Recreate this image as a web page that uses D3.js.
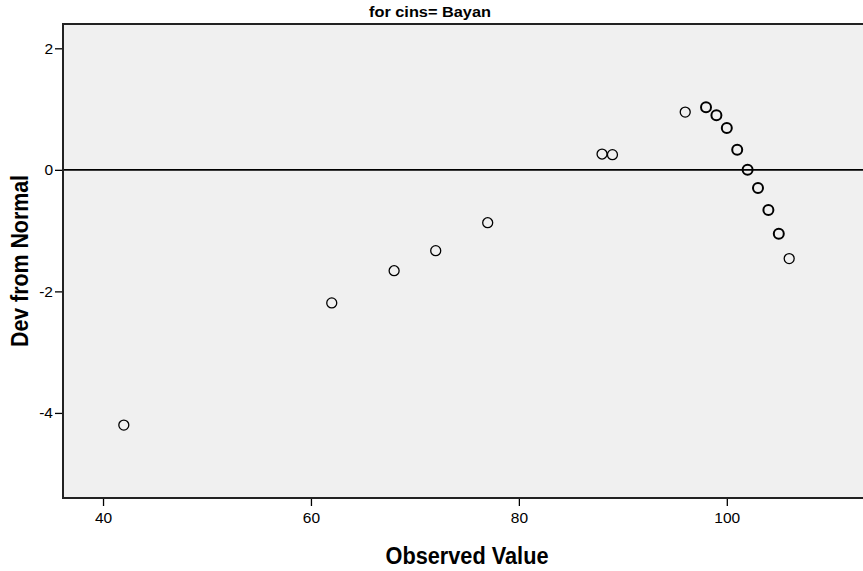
<!DOCTYPE html>
<html>
<head>
<meta charset="utf-8">
<script src="https://cdn.jsdelivr.net/npm/d3@7"></script>
<style>
	body { margin: 0; background: #fff; }
	svg { display: block; font-family: "Liberation Sans", Arial, sans-serif; }
</style>
</head>
<body>
<script>
// observed value, deviation from normal, number of overlapping cases
const observed = [42, 62, 68, 72, 77, 88, 89, 96, 98, 99, 100, 101, 102, 103, 104, 105, 106];
const devFromNormal = [-4.2, -2.19, -1.66, -1.33, -0.87, 0.26, 0.25, 0.95, 1.03, 0.9, 0.69, 0.33, 0.0, -0.3, -0.66, -1.05, -1.46];
const caseCount = [1, 1, 1, 1, 1, 1, 1, 1, 2, 2, 2, 2, 2, 2, 2, 2, 1];
const xTicks = [40, 60, 80, 100];
const yTicks = [2, 0, -2, -4];
const title = 'for cins= Bayan';

const width = 863, height = 571;
const m = { top: 24, right: 0, bottom: 73, left: 63 };

const svg = d3.select('body').append('svg')
	.attr('width', width)
	.attr('height', height);

const x = d3.scaleLinear([36.15, 113.1], [m.left, width - m.right]);
const y = d3.scaleLinear([-5.4, 2.4], [height - m.bottom, m.top]);

const points = observed.map((d, i) => ({ x: d, y: devFromNormal[i], n: caseCount[i] }));

svg.append('rect')
	.attr('x', m.left)
	.attr('y', m.top)
	.attr('width', width - m.left - m.right)
	.attr('height', height - m.top - m.bottom)
	.style('fill', '#f0f0f0');

// zero reference line
svg.append('line')
	.attr('x1', m.left)
	.attr('x2', width)
	.attr('y1', y(0))
	.attr('y2', y(0))
	.style('stroke', '#000')
	.style('stroke-width', 1.8);

// frame: top, left, bottom (right side is cut off)
svg.append('path')
	.attr('d', `M${width},${m.top}H${m.left}V${height - m.bottom}H${width}`)
	.style('fill', 'none')
	.style('stroke', '#222')
	.style('stroke-width', 2);

// plain hyphen for negatives, like the original
const fmt = d => String(d);

const xAxis = svg.append('g')
	.attr('transform', `translate(0,${height - m.bottom + 1})`)
	.call(d3.axisBottom(x).tickValues(xTicks).tickFormat(fmt).tickSize(7).tickPadding(6));
const yAxis = svg.append('g')
	.attr('transform', `translate(${m.left - 1},0)`)
	.call(d3.axisLeft(y).tickValues(yTicks).tickFormat(fmt).tickSize(7).tickPadding(2));

[xAxis, yAxis].forEach(a => {
	a.select('.domain').remove();
	a.selectAll('line').style('stroke', '#000').style('stroke-width', 1.3);
	a.selectAll('text')
		.style('font-family', '"Liberation Sans", Arial, sans-serif')
		.style('font-size', '15.5px')
		.style('fill', '#000');
});

svg.append('g')
	.selectAll('circle')
	.data(points)
	.join('circle')
	.attr('cx', d => x(d.x))
	.attr('cy', d => y(d.y))
	.attr('r', 5)
	.style('fill', 'none')
	.style('stroke', '#000')
	.style('stroke-width', d => d.n > 1 ? 2 : 1.3);

svg.append('text')
	.attr('x', 430)
	.attr('y', 17)
	.attr('text-anchor', 'middle')
	.attr('textLength', 122)
	.attr('lengthAdjust', 'spacingAndGlyphs')
	.style('font-size', '14px')
	.style('font-weight', 'bold')
	.text(title);

const midX = (m.left + width - m.right) / 2;
svg.append('text')
	.attr('x', midX + 4)
	.attr('y', 564)
	.attr('text-anchor', 'middle')
	.attr('textLength', 163)
	.attr('lengthAdjust', 'spacingAndGlyphs')
	.style('font-size', '23px')
	.style('font-weight', 'bold')
	.text('Observed Value');

svg.append('text')
	.attr('transform', `translate(28,${(m.top + height - m.bottom) / 2}) rotate(-90)`)
	.attr('text-anchor', 'middle')
	.attr('textLength', 172)
	.attr('lengthAdjust', 'spacingAndGlyphs')
	.style('font-size', '23px')
	.style('font-weight', 'bold')
	.text('Dev from Normal');
</script>
</body>
</html>
